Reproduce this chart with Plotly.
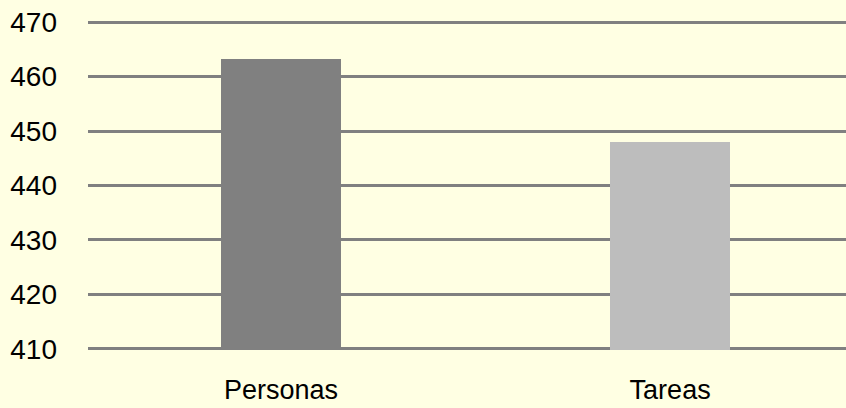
import plotly.graph_objects as go

# Data
categories = ["Personas", "Tareas"]
values = [463.2, 447.9]
bar_colors = ["#808080", "#BDBDBD"]
y_ticks = [410, 420, 430, 440, 450, 460, 470]

fig = go.Figure(
    go.Bar(
        x=[0, 1],
        y=values,
        width=0.308,
        marker=dict(color=bar_colors, line=dict(width=0)),
        hoverinfo="skip",
    )
)

# Range padded slightly so the 410 and 470 grid lines are drawn
y_range = [409.8, 470.2]

fig.update_layout(
    width=846,
    height=408,
    margin=dict(l=88, r=0, t=21, b=58),
    paper_bgcolor="#FFFFE3",
    plot_bgcolor="#FFFFE3",
    font=dict(family="Liberation Sans, Arial, sans-serif", size=28, color="#000000"),
    showlegend=False,
    bargap=0,
)

fig.update_xaxes(
    range=[-0.496, 1.452],
    tickvals=[0, 1],
    ticktext=categories,
    tickfont=dict(size=27),
    showgrid=False,
    zeroline=False,
    showline=False,
    ticks="",
    ticklabelstandoff=21,
    automargin=False,
)

fig.update_yaxes(
    range=y_range,
    tickvals=y_ticks,
    tickfont=dict(size=28),
    showgrid=True,
    gridcolor="#808080",
    gridwidth=2.5,
    zeroline=False,
    showline=False,
    ticks="",
    ticklabelstandoff=30,
    automargin=False,
)

fig.write_html("out.html")
